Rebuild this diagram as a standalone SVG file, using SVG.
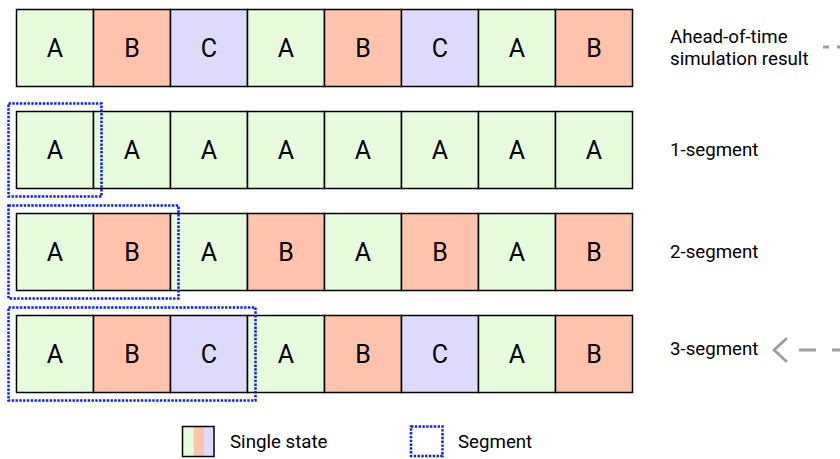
<svg xmlns="http://www.w3.org/2000/svg" width="840" height="459" viewBox="0 0 840 459">
<style>
.a{fill:#e6fadc}.b{fill:#ffc3ab}.c{fill:#dedaff}
.cell{stroke:#000;stroke-width:1.5}
.lt{font-family:Roboto,"Liberation Sans",sans-serif;font-size:25px;fill:#000;text-anchor:middle}
.lab{font-family:Roboto,"Liberation Sans",sans-serif;font-size:18.7px;fill:#000}
.seg{fill:none;stroke:#0a1ef5;stroke-width:2.5;stroke-dasharray:2.4 1.4}
.conn{fill:none;stroke:#9e9e9e;stroke-width:3}
</style>
<defs>
<marker id="chev" markerUnits="userSpaceOnUse" markerWidth="20" markerHeight="30" viewBox="0 0 20 30" refX="2" refY="15" orient="auto">
<polyline points="2,4 14,15 2,26" fill="none" stroke="#9e9e9e" stroke-width="3" stroke-linecap="round" stroke-linejoin="round"/>
</marker>
</defs>
<rect width="840" height="459" fill="#fff"/>
<g id="row-aot">
<g id="r0c0"><rect class="cell a" x="16.5" y="9.5" width="77" height="77"/><text class="lt" x="55" y="57">A</text></g>
<g id="r0c1"><rect class="cell b" x="93.5" y="9.5" width="77" height="77"/><text class="lt" x="132" y="57">B</text></g>
<g id="r0c2"><rect class="cell c" x="170.5" y="9.5" width="77" height="77"/><text class="lt" x="209" y="57">C</text></g>
<g id="r0c3"><rect class="cell a" x="247.5" y="9.5" width="77" height="77"/><text class="lt" x="286" y="57">A</text></g>
<g id="r0c4"><rect class="cell b" x="324.5" y="9.5" width="77" height="77"/><text class="lt" x="363" y="57">B</text></g>
<g id="r0c5"><rect class="cell c" x="401.5" y="9.5" width="77" height="77"/><text class="lt" x="440" y="57">C</text></g>
<g id="r0c6"><rect class="cell a" x="478.5" y="9.5" width="77" height="77"/><text class="lt" x="517" y="57">A</text></g>
<g id="r0c7"><rect class="cell b" x="555.5" y="9.5" width="77" height="77"/><text class="lt" x="594" y="57">B</text></g>
</g>
<g id="row-1seg">
<g id="r1c0"><rect class="cell a" x="16.5" y="111.5" width="77" height="77"/><text class="lt" x="55" y="159">A</text></g>
<g id="r1c1"><rect class="cell a" x="93.5" y="111.5" width="77" height="77"/><text class="lt" x="132" y="159">A</text></g>
<g id="r1c2"><rect class="cell a" x="170.5" y="111.5" width="77" height="77"/><text class="lt" x="209" y="159">A</text></g>
<g id="r1c3"><rect class="cell a" x="247.5" y="111.5" width="77" height="77"/><text class="lt" x="286" y="159">A</text></g>
<g id="r1c4"><rect class="cell a" x="324.5" y="111.5" width="77" height="77"/><text class="lt" x="363" y="159">A</text></g>
<g id="r1c5"><rect class="cell a" x="401.5" y="111.5" width="77" height="77"/><text class="lt" x="440" y="159">A</text></g>
<g id="r1c6"><rect class="cell a" x="478.5" y="111.5" width="77" height="77"/><text class="lt" x="517" y="159">A</text></g>
<g id="r1c7"><rect class="cell a" x="555.5" y="111.5" width="77" height="77"/><text class="lt" x="594" y="159">A</text></g>
</g>
<g id="row-2seg">
<g id="r2c0"><rect class="cell a" x="16.5" y="213.5" width="77" height="77"/><text class="lt" x="55" y="261">A</text></g>
<g id="r2c1"><rect class="cell b" x="93.5" y="213.5" width="77" height="77"/><text class="lt" x="132" y="261">B</text></g>
<g id="r2c2"><rect class="cell a" x="170.5" y="213.5" width="77" height="77"/><text class="lt" x="209" y="261">A</text></g>
<g id="r2c3"><rect class="cell b" x="247.5" y="213.5" width="77" height="77"/><text class="lt" x="286" y="261">B</text></g>
<g id="r2c4"><rect class="cell a" x="324.5" y="213.5" width="77" height="77"/><text class="lt" x="363" y="261">A</text></g>
<g id="r2c5"><rect class="cell b" x="401.5" y="213.5" width="77" height="77"/><text class="lt" x="440" y="261">B</text></g>
<g id="r2c6"><rect class="cell a" x="478.5" y="213.5" width="77" height="77"/><text class="lt" x="517" y="261">A</text></g>
<g id="r2c7"><rect class="cell b" x="555.5" y="213.5" width="77" height="77"/><text class="lt" x="594" y="261">B</text></g>
</g>
<g id="row-3seg">
<g id="r3c0"><rect class="cell a" x="16.5" y="315.5" width="77" height="77"/><text class="lt" x="55" y="363">A</text></g>
<g id="r3c1"><rect class="cell b" x="93.5" y="315.5" width="77" height="77"/><text class="lt" x="132" y="363">B</text></g>
<g id="r3c2"><rect class="cell c" x="170.5" y="315.5" width="77" height="77"/><text class="lt" x="209" y="363">C</text></g>
<g id="r3c3"><rect class="cell a" x="247.5" y="315.5" width="77" height="77"/><text class="lt" x="286" y="363">A</text></g>
<g id="r3c4"><rect class="cell b" x="324.5" y="315.5" width="77" height="77"/><text class="lt" x="363" y="363">B</text></g>
<g id="r3c5"><rect class="cell c" x="401.5" y="315.5" width="77" height="77"/><text class="lt" x="440" y="363">C</text></g>
<g id="r3c6"><rect class="cell a" x="478.5" y="315.5" width="77" height="77"/><text class="lt" x="517" y="363">A</text></g>
<g id="r3c7"><rect class="cell b" x="555.5" y="315.5" width="77" height="77"/><text class="lt" x="594" y="363">B</text></g>
</g>
<g id="segments">
<rect id="seg1" class="seg" x="8.5" y="103.5" width="93" height="93"/>
<rect id="seg2" class="seg" x="8.5" y="205.5" width="170" height="93"/>
<rect id="seg3" class="seg" x="8.5" y="307.5" width="247" height="93"/>
</g>
<g id="labels">
<g id="lab-aot"><text class="lab" x="670" y="43">Ahead-of-time</text><text class="lab" x="670" y="65">simulation result</text></g>
<g id="lab-1"><text class="lab" x="670" y="156">1-segment</text></g>
<g id="lab-2"><text class="lab" x="670" y="258">2-segment</text></g>
<g id="lab-3"><text class="lab" x="670" y="355">3-segment</text></g>
</g>
<g id="connectors">
<path class="conn" d="M823 47 H860" stroke-dasharray="6 8"/>
<path class="conn" d="M860 350 H786" stroke-dasharray="17 16" stroke-dashoffset="22" marker-end="url(#chev)"/>
</g>
<g id="legend">
<g id="leg-state">
<rect class="a" x="182.5" y="426.5" width="11" height="30"/>
<rect class="b" x="193.5" y="426.5" width="10.5" height="30"/>
<rect class="c" x="204" y="426.5" width="10" height="30"/>
<rect x="182.5" y="426.5" width="31.5" height="30" fill="none" stroke="#000" stroke-width="1.5"/>
<text class="lab" x="230" y="447.5">Single state</text>
</g>
<g id="leg-seg">
<rect class="seg" x="411" y="426.5" width="31.5" height="29.5"/>
<text class="lab" x="458" y="447.5">Segment</text>
</g>
</g>
</svg>
